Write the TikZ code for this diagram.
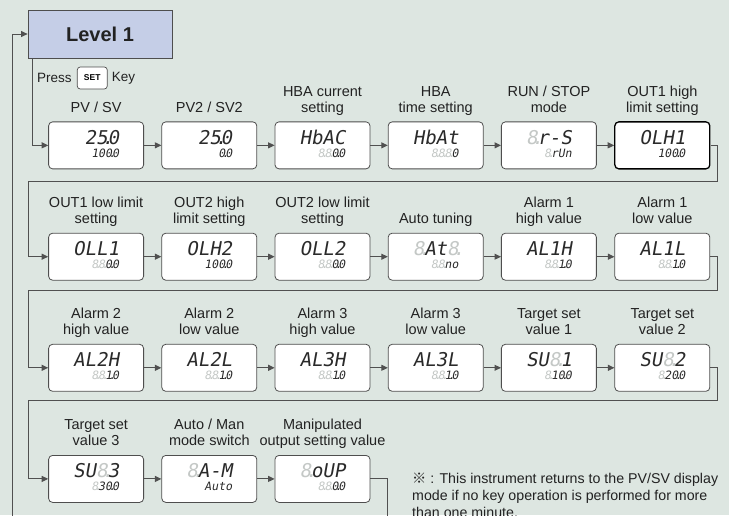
\documentclass[tikz,border=0pt]{standalone}
\usepackage{fontspec}
\setmainfont{Liberation Sans}
\newfontfamily\lcdfont[FakeSlant=0.18]{DejaVu Sans Mono}
\newfontfamily\cjk{Noto Sans CJK SC}
\usepackage{xcolor}
\usepackage{tikz}
\usetikzlibrary{matrix}
\usetikzlibrary{positioning}
\usetikzlibrary{arrows.meta}
\definecolor{bgc}{HTML}{DDE6E1}
\definecolor{lvlc}{HTML}{C5CEE7}
\definecolor{boxc}{HTML}{4E4E4E}
\definecolor{linec}{HTML}{505050}
\definecolor{txtc}{HTML}{222222}
\definecolor{ghost}{HTML}{C4C8C6}
\definecolor{seg}{HTML}{2A2A2A}
% one lcd digit that is switched off, and a decimal point that takes no room
\newcommand{\gh}{{\color{ghost}8\makebox[0pt]{.}}}
\newcommand{\dotp}{\makebox[0pt]{.}}
\newcommand{\lcd}[2]{{\lcdfont\begin{tabular}{@{}r@{}}
  \fontsize{19}{19}\selectfont\color{seg}#1\\[1pt]
  \fontsize{11.5}{11.5}\selectfont\color{seg}#2
\end{tabular}}}
\tikzset{
disp/.style={
  matrix of nodes,
  inner sep=0pt,
  column sep=17.4pt,
  row sep=63.3pt,
  nodes={lcdbox}
},
lcdbox/.style={draw=boxc, fill=white, rounded corners=4pt, line width=0.8pt,
  minimum width=95pt, minimum height=47pt, inner sep=0pt},
lcdbold/.style={draw=black, line width=1.3pt},
lbl/.style={align=center, inner sep=0pt, text=txtc, font=\fontsize{14.5}{16}\selectfont},
lvl/.style={draw=boxc, fill=lvlc, line width=0.8pt, minimum width=144pt,
  minimum height=48pt, text=txtc, font=\bfseries\fontsize{20}{24}\selectfont},
setkey/.style={draw=boxc, fill=white, rounded corners=3pt, line width=0.7pt,
  minimum width=30pt, minimum height=22pt, inner sep=0pt,
  font=\bfseries\fontsize{8.5}{10}\selectfont},
flow/.style={draw=linec, line width=1pt},
>={Triangle[length=6.5pt,width=6pt]},
}

\begin{document}
\begin{tikzpicture}[x=1pt,y=-1pt]
\fill[bgc, use as bounding box] (0,0) rectangle (729,515);
\clip (0,0) rectangle (729,515);

\node[lvl] (lvl) at (100,34) {Level 1};
\node[anchor=west, inner sep=0pt, text=txtc, font=\fontsize{13.5}{16}\selectfont] (press) at (37,78) {Press};
\node[setkey, right=5pt of press] (set) {SET};
\node[inner sep=0pt, text=txtc, font=\fontsize{13.5}{16}\selectfont, right=4pt of set] (key) {Key};

\matrix (d) [disp, anchor=north west] at (48,121)
{
\lcd{\phantom{8}25\dotp0}{100\dotp0} &
\lcd{\phantom{8}25\dotp0}{\phantom{88}0\dotp0} &
\lcd{HbAC}{\gh\gh0\dotp0} &
\lcd{HbAt}{\gh\gh\gh0} &
\lcd{\gh r-S}{\gh rUn} &
|[lcdbold]| \lcd{OLH1}{100\dotp0} \\
\lcd{OLL1}{\gh\gh0\dotp0} &
\lcd{OLH2}{100\dotp0} &
\lcd{OLL2}{\gh\gh0\dotp0} &
\lcd{\gh At\gh}{\gh\gh no} &
\lcd{AL1H}{\gh\gh1\dotp0} &
\lcd{AL1L}{\gh\gh1\dotp0} \\
\lcd{AL2H}{\gh\gh1\dotp0} &
\lcd{AL2L}{\gh\gh1\dotp0} &
\lcd{AL3H}{\gh\gh1\dotp0} &
\lcd{AL3L}{\gh\gh1\dotp0} &
\lcd{SU\gh1}{\gh10\dotp0} &
\lcd{SU\gh2}{\gh20\dotp0} \\
\lcd{SU\gh3}{\gh30\dotp0} &
\lcd{\gh A-M}{Auto} &
\lcd{\gh oUP}{\gh\gh0\dotp0} \\
};

% the names over the displays
\foreach \pos/\txt in {1-1/{PV / SV}, 1-2/{PV2 / SV2}, 1-3/{HBA current\\setting},
  1-4/{HBA\\time setting}, 1-5/{RUN / STOP\\mode}, 1-6/{OUT1 high\\limit setting},
  2-1/{OUT1 low limit\\setting}, 2-2/{OUT2 high\\limit setting}, 2-3/{OUT2 low limit\\setting},
  2-4/{Auto tuning}, 2-5/{Alarm 1\\high value}, 2-6/{Alarm 1\\low value},
  3-1/{Alarm 2\\high value}, 3-2/{Alarm 2\\low value}, 3-3/{Alarm 3\\high value},
  3-4/{Alarm 3\\low value}, 3-5/{Target set\\value 1}, 3-6/{Target set\\value 2},
  4-1/{Target set\\value 3}, 4-2/{Auto / Man\\mode switch}, 4-3/{Manipulated\\output setting value}}
{
  \node[lbl, above=4.2pt of d-\pos] (t-\pos) {\txt\strut};
}

% the arrows
\draw[flow,->] ([xshift=5pt]lvl.south west) |- (d-1-1.west);
\foreach \row/\last in {1/5,2/5,3/5,4/2}
  \foreach \col in {1,...,\last}
  {
    \pgfmathtruncatemacro{\nxt}{\col+1}
    \draw[flow,->] (d-\row-\col.east) -- (d-\row-\nxt.west);
  }
\draw[flow,->] (d-1-6.east) -| (717,181) -- (28,181) |- (d-2-1.west);
\draw[flow,->] (d-2-6.east) -| (717,290) -- (28,290) |- (d-3-1.west);
\draw[flow,->] (d-3-6.east) -| (717,400) -- (28,400) |- (d-4-1.west);
\draw[flow,->] (d-4-3.east) -| (387,530) -- (12,530) |- (lvl.west);

\node[anchor=north west, align=left, inner sep=0pt, text=txtc,
  font=\fontsize{14.2}{17}\selectfont] (note) at (412,471)
  {\strut{\cjk ※} : This instrument returns to the PV/SV display\\
   mode if no key operation is performed for more\\
   than one minute.};
\end{tikzpicture}
\end{document}
